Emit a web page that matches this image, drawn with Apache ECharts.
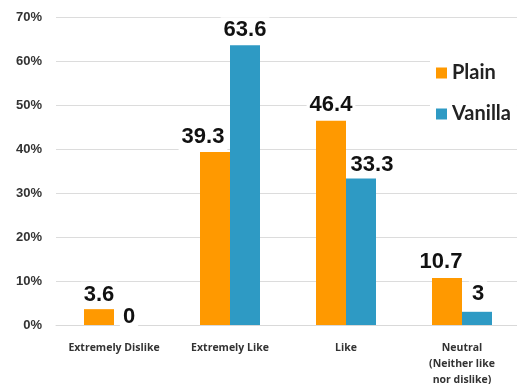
<!DOCTYPE html>
<html>
<head>
<meta charset="utf-8">
<script src="https://cdn.jsdelivr.net/npm/echarts@6/dist/echarts.min.js"></script>
<style>
  html, body { margin: 0; padding: 0; background: #fff; }
  #chart { width: 517px; height: 384px; }
</style>
</head>
<body>
<div id="chart"></div>
<script>
// Preference ratings (% of respondents) for two yogurt flavours
const categories = ['Extremely Dislike', 'Extremely Like', 'Like', 'Neutral\n(Neither like\nnor dislike)'];
const plainValues = [3.6, 39.3, 46.4, 10.7];
const vanillaValues = [0, 63.6, 33.3, 3];
const seriesNames = ['Plain', 'Vanilla'];
const yTicks = [0, 10, 20, 30, 40, 50, 60, 70];

// per-bar value label placement: gap above the bar top and sideways nudge
const plainLabelGap = [1.5, 2, 2.5, 3];
const vanillaLabelGap = [-5, 2, 1, 4.5];
const plainLabelShift = [0, -12, 0, -6];
const vanillaLabelShift = [0, 0, 11, 1];

const chart = echarts.init(document.getElementById('chart'));

const valueLabel = {
  show: true,
  position: 'top',
  fontFamily: 'Liberation Sans, Arial, sans-serif',
  fontWeight: 'bold',
  fontSize: 22,
  color: '#111',
  backgroundColor: '#fff',
  padding: [2, 3]
};

const withLabels = (values, gaps, shifts) => values.map((v, i) => ({
  value: v,
  label: { distance: gaps[i], offset: [shifts[i], 0] }
}));

chart.setOption({
  animation: false,
  grid: { left: 56, top: 17, width: 464, bottom: 59, containLabel: false, outerBoundsMode: 'none' },
  legend: {
    orient: 'vertical',
    left: 430,
    top: 55,
    itemWidth: 11,
    itemHeight: 11,
    itemGap: 21,
    icon: 'rect',
    backgroundColor: '#fff',
    padding: [8, 6],
    textStyle: {
      fontFamily: 'Lato, Liberation Sans, sans-serif',
      fontWeight: 'bold',
      fontSize: 20,
      color: '#222'
    },
    data: seriesNames
  },
  xAxis: {
    type: 'category',
    data: categories,
    axisLine: { show: true, lineStyle: { color: '#d9d9d9' } },
    axisTick: { show: false },
    axisLabel: {
      interval: 0,
      margin: 15,
      fontFamily: 'Open Sans, Liberation Sans, sans-serif',
      fontWeight: 'bold',
      fontSize: 10.5,
      lineHeight: 16,
      color: '#333'
    }
  },
  yAxis: {
    type: 'value',
    min: yTicks[0],
    max: yTicks[yTicks.length - 1],
    interval: 10,
    axisLine: { show: false },
    axisTick: { show: false },
    splitLine: { lineStyle: { color: '#dcdcdc', width: 1 } },
    axisLabel: {
      margin: 14,
      fontFamily: 'Liberation Sans, Arial, sans-serif',
      fontWeight: 'bold',
      fontSize: 13,
      color: '#333',
      formatter: v => v + '%'
    }
  },
  series: [
    {
      name: seriesNames[0],
      type: 'bar',
      data: withLabels(plainValues, plainLabelGap, plainLabelShift),
      barWidth: 30,
      barGap: '0%',
      itemStyle: { color: '#ff9900' },
      label: valueLabel
    },
    {
      name: seriesNames[1],
      type: 'bar',
      data: withLabels(vanillaValues, vanillaLabelGap, vanillaLabelShift),
      barWidth: 30,
      barGap: '0%',
      itemStyle: { color: '#2e9ac4' },
      label: valueLabel
    }
  ]
});
</script>
</body>
</html>
